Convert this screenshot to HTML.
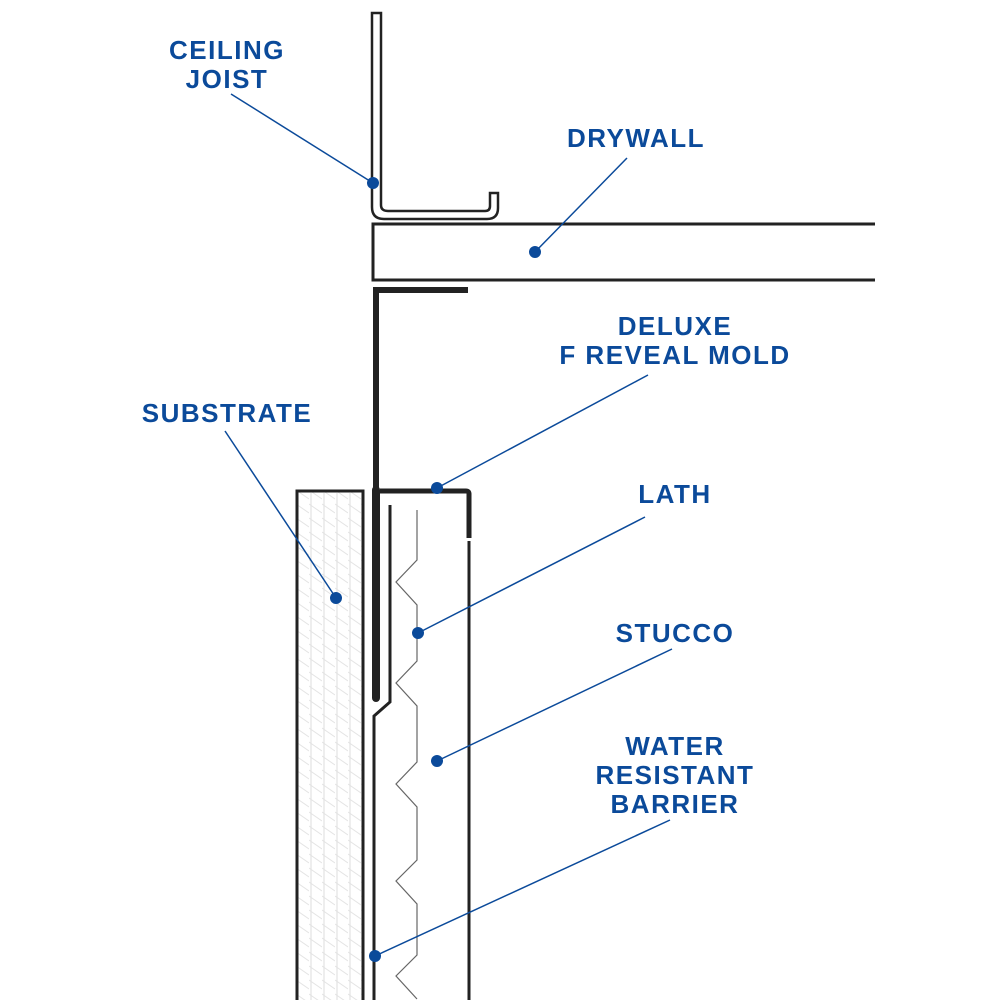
<!DOCTYPE html>
<html><head><meta charset="utf-8"><style>
body{margin:0;background:#fff}
svg{display:block}
text{font-family:"Liberation Sans",sans-serif;font-weight:bold;font-size:26px;letter-spacing:1.5px;fill:#0b4a9a;text-anchor:middle}
</style></head><body>
<svg width="1000" height="1000" viewBox="0 0 1000 1000">
<defs>
<pattern id="hat" x="296" y="490" width="13" height="14" patternUnits="userSpaceOnUse">
<path d="M0 0 L13 9 M0 14 L13 23 M0 -14 L13 -5" stroke="#e4e4e4" stroke-width="1"/>
</pattern>
</defs>
<rect x="297" y="491" width="66" height="520" fill="url(#hat)" stroke="#222" stroke-width="3"/>
<g stroke="#e2e2e2" stroke-width="1.2">
<line x1="311" y1="493" x2="311" y2="1000"/><line x1="324" y1="493" x2="324" y2="1000"/><line x1="337" y1="493" x2="337" y2="1000"/><line x1="350" y1="493" x2="350" y2="1000"/>
</g>
<path d="M372 13 H381 V205 Q381 211 388 211 H485 Q490 211 490 206 V193 H498 V208 Q498 219 487 219 H384 Q372 219 372 207 Z" fill="#fff" stroke="#222" stroke-width="2.5"/>
<path d="M875 224 H373 V280 H875" fill="#fff" stroke="#222" stroke-width="3"/>
<path d="M468 290 H376 V700" fill="none" stroke="#222" stroke-width="6"/>
<path d="M376 490 V698" fill="none" stroke="#222" stroke-width="8" stroke-linecap="round"/>
<path d="M380 491 H466 Q469 491 469 494 V538" fill="none" stroke="#222" stroke-width="5"/>
<path d="M469 541 V1000" fill="none" stroke="#222" stroke-width="3"/>
<path d="M390 505 V702 L374 716 V1000" fill="none" stroke="#222" stroke-width="3"/>
<path d="M417 510 V560 L396 582 L417 605 V661 L396 683 L417 706 V762 L396 784 L417 807 V860 L396 881 L417 904 V955 L396 976 L417 999" fill="none" stroke="#666" stroke-width="1.2"/>
<g stroke="#0b4a9a" stroke-width="1.5" fill="none">
<line x1="231" y1="94" x2="373" y2="183"/>
<line x1="627" y1="158" x2="535" y2="252"/>
<line x1="648" y1="375" x2="437" y2="488"/>
<line x1="225" y1="431" x2="336" y2="598"/>
<line x1="645" y1="517" x2="418" y2="633"/>
<line x1="672" y1="649" x2="437" y2="761"/>
<line x1="670" y1="820" x2="375" y2="956"/>
</g>
<g fill="#0b4a9a">
<circle cx="373" cy="183" r="6"/><circle cx="535" cy="252" r="6"/><circle cx="437" cy="488" r="6"/>
<circle cx="336" cy="598" r="6"/><circle cx="418" cy="633" r="6"/><circle cx="437" cy="761" r="6"/><circle cx="375" cy="956" r="6"/>
</g>
<text x="227" y="59">CEILING</text>
<text x="227" y="88">JOIST</text>
<text x="636" y="147">DRYWALL</text>
<text x="675" y="335">DELUXE</text>
<text x="675" y="364">F REVEAL MOLD</text>
<text x="227" y="422">SUBSTRATE</text>
<text x="675" y="503">LATH</text>
<text x="675" y="642">STUCCO</text>
<text x="675" y="755">WATER</text>
<text x="675" y="784">RESISTANT</text>
<text x="675" y="813">BARRIER</text>
</svg>
</body></html>
